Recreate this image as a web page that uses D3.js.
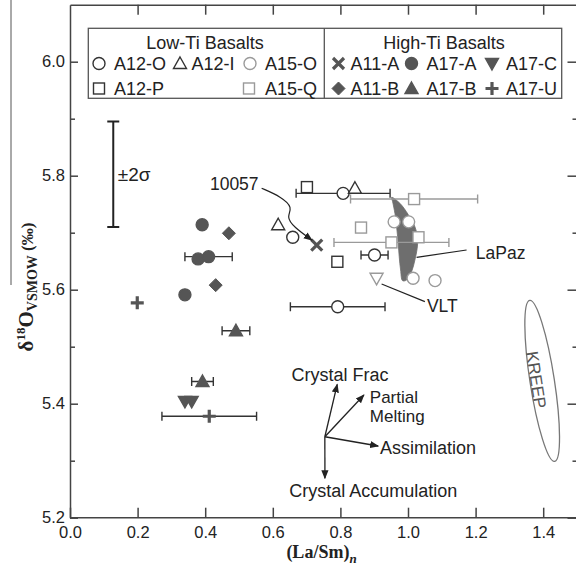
<!DOCTYPE html>
<html><head><meta charset="utf-8">
<script src="https://cdn.jsdelivr.net/npm/d3@7"></script>
<style>
html,body{margin:0;padding:0;background:#fff;}
svg{display:block;}
text{font-family:"Liberation Sans",Arial,sans-serif;}
</style></head>
<body>
<svg id="chart" width="576" height="572"></svg>
<script>
// ---------- data ----------
const xTicks = [0.0, 0.2, 0.4, 0.6, 0.8, 1.0, 1.2, 1.4];
const xTickLabels = ["0.0","0.2","0.4","0.6","0.8","1.0","1.2","1.4"];
const yTicks = [5.2, 5.4, 5.6, 5.8, 6.0];
const yTickLabels = ["5.2","5.4","5.6","5.8","6.0"];
const yMinorTicks = [5.3, 5.5, 5.7, 5.9];

// [La/Sm, d18O, x half-error]
const A12_O = [[0.808,5.769,0.139],[0.659,5.692,0],[0.901,5.661,0.040],[0.792,5.570,0.140]];
const A12_I = [[0.843,5.778,0],[0.616,5.714,0]];
const A15_O = [[0.959,5.719,0],[1.002,5.719,0],[1.015,5.620,0],[1.080,5.616,0]];
const A12_P = [[0.701,5.780,0],[0.791,5.649,0]];
const A15_Q = [[1.018,5.759,0.188],[0.861,5.709,0],[0.951,5.683,0.170],[1.031,5.692,0]];
const A11_A = [[0.730,5.678,0]];
const A17_A = [[0.391,5.714,0],[0.379,5.654,0],[0.410,5.658,0.070],[0.340,5.591,0]];
const A17_C = [[0.340,5.404,0],[0.360,5.404,0]];
const A11_B = [[0.470,5.699,0],[0.431,5.608,0]];
const A17_B = [[0.491,5.528,0.041],[0.392,5.439,0.032]];
const A17_U = [[0.412,5.378,0.140],[0.199,5.577,0]];
const VLT = [[0.907,5.620,0]];

const lowTiTitle = "Low-Ti Basalts";
const highTiTitle = "High-Ti Basalts";

// LaPaz field outline (data units)
const lapaz = [[0.9515,5.7621],[0.976,5.7516],[1.0006,5.7319],[1.0204,5.7105],[1.0284,5.6902],[1.0272,5.6726],
  [1.0204,5.6521],[1.0106,5.6316],[0.9959,5.6170],[0.9840,5.6158],[0.9781,5.6346],[0.9740,5.6579],
  [0.9710,5.6814],[0.9663,5.7105],[0.9613,5.7340],[0.9545,5.7544]];

// process arrows
const procOrigin = [0.754, 5.342];
const procEnds = [[0.7906,5.4340],[0.8696,5.4153],[0.9119,5.3258],[0.7542,5.2691]];
const procLabels = [
  {t:"Crystal Frac", x:0.7986, y:5.4406, a:"middle", s:18},
  {t:"Partial", x:0.887, y:5.4021, a:"start", s:17},
  {t:"Melting", x:0.887, y:5.3679, a:"start", s:17},
  {t:"Assimilation", x:0.9169, y:5.3118, a:"start", s:18},
  {t:"Crystal Accumulation", x:0.8971, y:5.2368, a:"middle", s:18}
];
const arrow10057 = [[0.567,5.778],[0.625,5.763],[0.660,5.744],[0.640,5.728],[0.662,5.710],[0.716,5.687]];
const sigmaBar = {x:0.128, y:5.8025, e:0.0925};
const kreep = {x:1.397, y:5.440};

// ---------- setup ----------
const svg = d3.select("#chart");
const x = d3.scaleLinear().domain([0,1.5]).range([70,577]);
const y = d3.scaleLinear().domain([5.2,6.1]).range([517.7,4.7]);
const AX = "#444";
const DARK = "#333", GREY = "#9a9a9a", FILL = "#555";

const defs = svg.append("defs");
defs.append("marker").attr("id","ah").attr("viewBox","0 0 10 10").attr("refX",9).attr("refY",5)
  .attr("markerWidth",9).attr("markerHeight",9).attr("markerUnits","userSpaceOnUse").attr("orient","auto")
  .append("path").attr("d","M0,1 L10,5 L0,9 Z").attr("fill","#222");

// stray vertical rule at far left
svg.append("line").attr("x1",11).attr("x2",11).attr("y1",0).attr("y2",285).attr("stroke","#555").attr("stroke-width",1);

// ---------- axes ----------
function styleAxis(g){ g.selectAll("path,line").attr("stroke",AX).attr("stroke-width",1.5); g.selectAll("text").attr("fill","#222").style("font-size","16.5px").style("font-family","Liberation Sans, Arial, sans-serif"); }

const gx = svg.append("g").attr("transform",`translate(0,${y(5.2)})`)
  .call(d3.axisBottom(x).tickValues(xTicks).tickFormat((d,i)=>xTickLabels[i]).tickSizeInner(-10).tickSizeOuter(0).tickPadding(8.5));
styleAxis(gx);
gx.select(".domain").attr("d",`M70,0H577`);

const gt = svg.append("g").attr("transform",`translate(0,${y(6.1)})`)
  .call(d3.axisTop(x).tickValues(xTicks.slice(1)).tickFormat("").tickSizeInner(-10).tickSizeOuter(0));
styleAxis(gt);

const gy = svg.append("g").attr("transform",`translate(${x(0)},0)`)
  .call(d3.axisLeft(y).tickValues(yTicks).tickFormat((d,i)=>yTickLabels[i]).tickSizeInner(-8).tickSizeOuter(0).tickPadding(5));
styleAxis(gy);
const gym = svg.append("g").attr("transform",`translate(${x(0)},0)`)
  .call(d3.axisLeft(y).tickValues(yMinorTicks).tickFormat("").tickSizeInner(-5).tickSizeOuter(0));
styleAxis(gym); gym.select(".domain").remove();

const gr = svg.append("g").attr("transform",`translate(${x(1.5)+1.5},0)`)
  .call(d3.axisRight(y).tickValues(yTicks).tickFormat("").tickSizeInner(-11).tickSizeOuter(0));
styleAxis(gr);
const grm = svg.append("g").attr("transform",`translate(${x(1.5)+1.5},0)`)
  .call(d3.axisRight(y).tickValues(yMinorTicks).tickFormat("").tickSizeInner(-6).tickSizeOuter(0));
styleAxis(grm); grm.select(".domain").remove();

// axis titles
const xl = svg.append("text").attr("x",(x(0)+x(1.5))/2-2).attr("y",558).attr("text-anchor","middle")
  .style("font-family","Liberation Serif, Times New Roman, serif").style("font-weight","bold").style("font-size","18px").attr("fill","#222");
xl.append("tspan").text("(La/Sm)");
xl.append("tspan").text("n").style("font-style","italic").style("font-size","13px").attr("dy",5);

const yl = svg.append("text").attr("transform","translate(33,287) rotate(-90)").attr("text-anchor","middle")
  .style("font-family","Liberation Serif, Times New Roman, serif").style("font-weight","bold").style("font-size","21px").attr("fill","#222");
yl.append("tspan").text("δ");
yl.append("tspan").text("18").style("font-size","13px").attr("dy",-8);
yl.append("tspan").text("O").attr("dy",8);
yl.append("tspan").text("VSMOW").style("font-size","14px").attr("dy",4);
yl.append("tspan").text(" (‰)").style("font-size","17px").attr("dy",-4);

// ---------- marker drawing ----------
function drawMarker(g, type, cx, cy, color, filled){
  const fill = filled ? color : "#fff";
  const sw = 1.4;
  switch(type){
    case "circle": g.append("circle").attr("cx",cx).attr("cy",cy).attr("r",6).attr("fill",fill).attr("stroke",color).attr("stroke-width",sw); break;
    case "square": g.append("rect").attr("x",cx-5.5).attr("y",cy-5.5).attr("width",11).attr("height",11).attr("fill",fill).attr("stroke",color).attr("stroke-width",sw); break;
    case "triangle": g.append("path").attr("d",`M${cx},${cy-6.5}L${cx+6.5},${cy+5}L${cx-6.5},${cy+5}Z`).attr("fill",fill).attr("stroke",color).attr("stroke-width",sw).attr("stroke-linejoin","miter"); break;
    case "invtriangle": g.append("path").attr("d",`M${cx},${cy+6.5}L${cx+6.5},${cy-5}L${cx-6.5},${cy-5}Z`).attr("fill",fill).attr("stroke",color).attr("stroke-width",sw); break;
    case "diamond": g.append("path").attr("d",`M${cx},${cy-6.5}L${cx+6.5},${cy}L${cx},${cy+6.5}L${cx-6.5},${cy}Z`).attr("fill",fill).attr("stroke",color).attr("stroke-width",1); break;
    case "x": g.append("path").attr("d",`M${cx-5.5},${cy-5.5}L${cx+5.5},${cy+5.5}M${cx-5.5},${cy+5.5}L${cx+5.5},${cy-5.5}`).attr("stroke",color).attr("stroke-width",3.2).attr("fill","none"); break;
    case "plus": g.append("path").attr("d",`M${cx-6.5},${cy}L${cx+6.5},${cy}M${cx},${cy-6.5}L${cx},${cy+6.5}`).attr("stroke",color).attr("stroke-width",3.2).attr("fill","none"); break;
  }
}

const series = [
  {name:"A12-O", data:A12_O, type:"circle", color:DARK, filled:false},
  {name:"A12-I", data:A12_I, type:"triangle", color:DARK, filled:false},
  {name:"A15-O", data:A15_O, type:"circle", color:GREY, filled:false},
  {name:"A12-P", data:A12_P, type:"square", color:DARK, filled:false},
  {name:"A15-Q", data:A15_Q, type:"square", color:GREY, filled:false},
  {name:"A11-A", data:A11_A, type:"x", color:FILL, filled:true},
  {name:"A17-A", data:A17_A, type:"circle", color:FILL, filled:true},
  {name:"A17-C", data:A17_C, type:"invtriangle", color:FILL, filled:true},
  {name:"A11-B", data:A11_B, type:"diamond", color:FILL, filled:true},
  {name:"A17-B", data:A17_B, type:"triangle", color:FILL, filled:true},
  {name:"A17-U", data:A17_U, type:"plus", color:FILL, filled:true},
  {name:"VLT", data:VLT, type:"invtriangle", color:GREY, filled:false}
];

// LaPaz field
svg.append("path").datum(lapaz)
  .attr("d", d3.line().x(d=>x(d[0])).y(d=>y(d[1])).curve(d3.curveCatmullRomClosed))
  .attr("fill","#6e6e6e").attr("stroke","#6e6e6e").attr("stroke-width",0.8);

// error bars
const gErr = svg.append("g");
series.forEach(s=>{
  s.data.forEach(d=>{
    if(d[2]>0){
      const c = s.color===GREY ? GREY : DARK;
      const x0=x(d[0]-d[2]), x1=x(d[0]+d[2]), yy=y(d[1]);
      gErr.append("path").attr("d",`M${x0},${yy}H${x1}M${x0},${yy-4.5}V${yy+4.5}M${x1},${yy-4.5}V${yy+4.5}`)
        .attr("stroke",c).attr("stroke-width",1.4).attr("fill","none");
    }
  });
});

// markers
const gM = svg.append("g");
series.forEach(s=>{ s.data.forEach(d=>drawMarker(gM, s.type, x(d[0]), y(d[1]), s.color, s.filled)); });

// ±2σ bar
{
  const xx = x(sigmaBar.x), y0 = y(sigmaBar.y+sigmaBar.e), y1 = y(sigmaBar.y-sigmaBar.e);
  svg.append("path").attr("d",`M${xx},${y0}V${y1}M${xx-6},${y0}H${xx+6}M${xx-6},${y1}H${xx+6}`).attr("stroke","#222").attr("stroke-width",2).attr("fill","none");
  svg.append("text").attr("x",xx+4.5).attr("y",y(sigmaBar.y)+6.5).text("±2σ").style("font-size","19px").attr("fill","#222");
}

// annotations
const ann = svg.append("g").attr("fill","#222").style("font-size","17.5px");
ann.append("text").attr("x",x(0.414)).attr("y",y(5.775)).text("10057");
svg.append("path").datum(arrow10057).attr("d", d3.line().x(d=>x(d[0])).y(d=>y(d[1])).curve(d3.curveBasis))
  .attr("fill","none").attr("stroke","#222").attr("stroke-width",1.2).attr("marker-end","url(#ah)");

svg.append("line").attr("x1",x(1.0254)).attr("y1",y(5.6568)).attr("x2",x(1.1733)).attr("y2",y(5.6696)).attr("stroke","#222").attr("stroke-width",1.2);
ann.append("text").attr("x",x(1.2008)).attr("y",y(5.6539)).text("LaPaz");
svg.append("line").attr("x1",x(0.9219)).attr("y1",y(5.61)).attr("x2",x(1.05)).attr("y2",y(5.579)).attr("stroke","#222").attr("stroke-width",1.2);
ann.append("text").attr("x",x(1.0559)).attr("y",y(5.5609)).text("VLT");

// process arrows
procEnds.forEach(e=>{
  svg.append("line").attr("x1",x(procOrigin[0])).attr("y1",y(procOrigin[1])).attr("x2",x(e[0])).attr("y2",y(e[1]))
    .attr("stroke","#222").attr("stroke-width",1.3).attr("marker-end","url(#ah)");
});
procLabels.forEach(l=>{ ann.append("text").attr("x",x(l.x)).attr("y",y(l.y)).attr("text-anchor",l.a).style("font-size",l.s+"px").text(l.t); });

// KREEP ellipse
{
  const cx = x(kreep.x), cy = y(kreep.y);
  svg.append("ellipse").attr("cx",0).attr("cy",0).attr("rx",12.2).attr("ry",81.5)
    .attr("transform",`translate(${cx},${cy}) rotate(-8.8)`).attr("fill","none").attr("stroke","#777").attr("stroke-width",1.3);
  svg.append("text").attr("transform",`translate(${cx-6},${cy-1}) rotate(81.2)`).attr("text-anchor","middle").attr("dy","0.35em")
    .text("KREEP").style("font-size","17px").attr("fill","#555");
}

// ---------- legend ----------
const lg = svg.append("g");
lg.append("rect").attr("x",88.3).attr("y",28.3).attr("width",473.4).attr("height",70).attr("fill","#fff").attr("stroke","#555").attr("stroke-width",1.3);
lg.append("line").attr("x1",324.3).attr("x2",324.3).attr("y1",28.3).attr("y2",98.3).attr("stroke","#555").attr("stroke-width",1.3);
const lt = lg.append("g").attr("fill","#222").style("font-size","18px");
lt.append("text").attr("x",205).attr("y",49).attr("text-anchor","middle").text(lowTiTitle);
lt.append("text").attr("x",444).attr("y",49).attr("text-anchor","middle").text(highTiTitle);
const legendPos = {
  "A12-O":[99,63.5], "A12-I":[180,63.5], "A15-O":[250,63.5],
  "A12-P":[99,88.5], "A15-Q":[249,88.5],
  "A11-A":[338.5,63.5], "A17-A":[411.5,63.5], "A17-C":[492,63.5],
  "A11-B":[338.5,88.5], "A17-B":[411.5,88.5], "A17-U":[492,88.5]
};
const legendTextX = {"A12-O":114,"A12-I":191.5,"A15-O":265,"A12-P":114,"A15-Q":265,"A11-A":350.5,"A17-A":426.5,"A17-C":506,"A11-B":350.5,"A17-B":426.5,"A17-U":506};
series.filter(s=>legendPos[s.name]).forEach(s=>{
  const p = legendPos[s.name];
  drawMarker(lg, s.type, p[0], p[1], s.color, s.filled);
  lt.append("text").attr("x",legendTextX[s.name]).attr("y",p[1]+6.5).text(s.name);
});
</script>
</body></html>
